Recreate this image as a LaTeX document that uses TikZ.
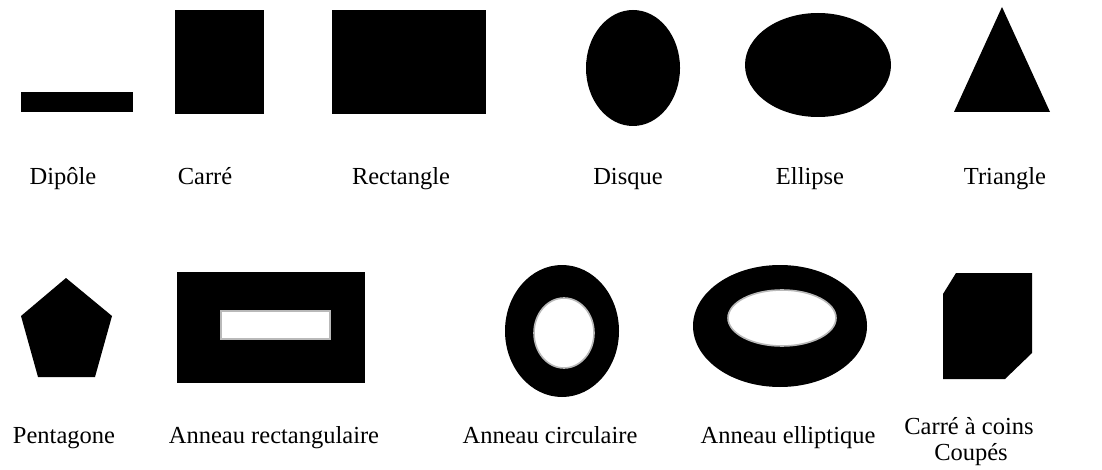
\documentclass[tikz,border=0pt]{standalone}
\usepackage{fontspec}
\setmainfont{Liberation Serif}
\begin{document}
\begin{tikzpicture}[x=1pt,y=-1pt,
  lbl/.style={anchor=base,font=\fontsize{24.5}{26}\selectfont,inner sep=0pt},
  solid shape/.style={fill=black,draw=none},
  hole/.style={fill=white,draw=gray!55,line width=1.6pt}]
\useasboundingbox[fill=white] (0,0) rectangle (1102,470);
% --- top row shapes
\fill[solid shape] (21,92) rectangle (133,112);
\fill[solid shape] (175,10) rectangle (264,114);
\fill[solid shape] (332,10) rectangle (486,114);
\fill[solid shape] (633,68) ellipse [x radius=47, y radius=58];
\fill[solid shape] (818,65) ellipse [x radius=73, y radius=52];
\fill[solid shape] (1002,7) -- (1050,112) -- (954,112) -- cycle;
% --- bottom row shapes
\fill[solid shape] (66,278) -- (112,316) -- (95,377) -- (38,377) -- (21,316) -- cycle;
\fill[solid shape] (177,272) rectangle (365,383);
\filldraw[hole] (221,311) rectangle (330,339);
\fill[solid shape] (562,331) ellipse [x radius=57, y radius=66];
\filldraw[hole] (564,333) ellipse [x radius=30, y radius=35];
\fill[solid shape] (780,326) ellipse [x radius=87, y radius=61];
\filldraw[hole] (782,318) ellipse [x radius=54, y radius=28];
\fill[solid shape] (956,273) -- (1032,273) -- (1032,353) -- (1005,379) -- (943,379) -- (943,294) -- cycle;
% --- labels
\node[lbl] (l1) at (63,185) {Dipôle};
\node[lbl] (l2) at (205,185) {Carré};
\node[lbl] (l3) at (401,185) {Rectangle};
\node[lbl] (l4) at (628,185) {Disque};
\node[lbl] (l5) at (810,185) {Ellipse};
\node[lbl] (l6) at (1005,185) {Triangle};
\node[lbl] (l7) at (64,443) {Pentagone};
\node[lbl] (l8) at (274,443) {Anneau rectangulaire};
\node[lbl] (l9) at (550,443) {Anneau circulaire};
\node[lbl] (l10) at (788,443) {Anneau elliptique};
\node[lbl] (l11) at (969,434) {Carré à coins};
\node[lbl] (l12) at (971,460) {Coupés};
\end{tikzpicture}
\end{document}
